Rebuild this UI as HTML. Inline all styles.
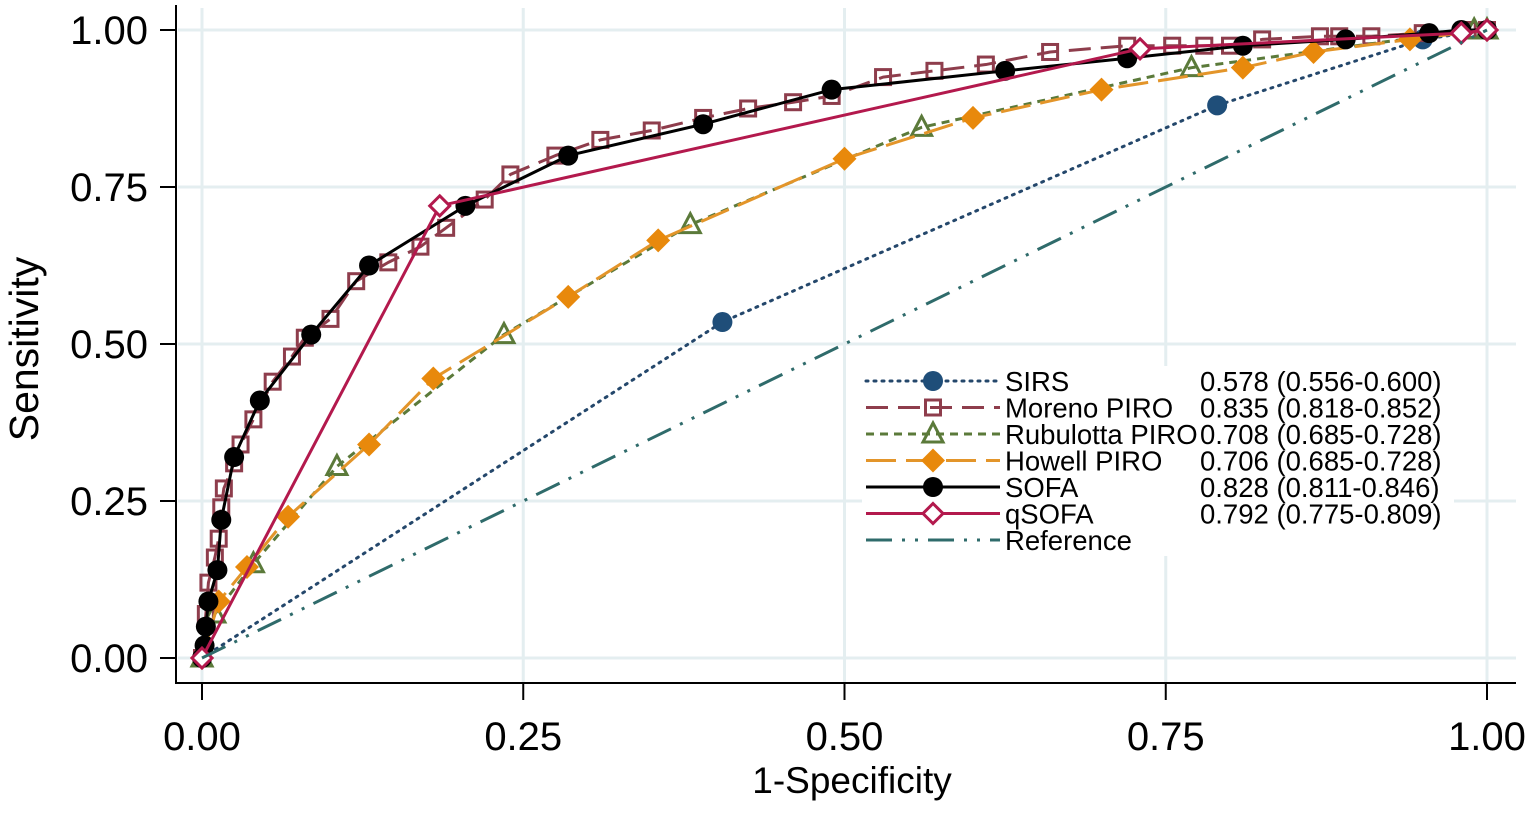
<!DOCTYPE html>
<html><head><meta charset="utf-8">
<style>
html,body{margin:0;padding:0;background:#fff;}
svg{display:block;font-family:"Liberation Sans",Arial,sans-serif;}
</style></head>
<body>
<svg id="chart" width="1529" height="814" viewBox="0 0 1529 814" xmlns="http://www.w3.org/2000/svg">
<g id="grid"></g>
<g id="axes"></g>
<g id="series"></g>
<g id="legend"></g>
</svg>
<script>
const xTicks=[0,0.25,0.5,0.75,1];
const yTicks=[0,0.25,0.5,0.75,1];
const tickLabels=["0.00","0.25","0.50","0.75","1.00"];
const sirsX=[0,0.405,0.79,0.95,1];
const sirsY=[0,0.535,0.88,0.985,1];
const morenoX=[0,0.003,0.005,0.01,0.013,0.015,0.017,0.025,0.03,0.04,0.055,0.07,0.08,0.1,0.12,0.145,0.17,0.19,0.22,0.24,0.275,0.31,0.35,0.39,0.425,0.46,0.49,0.53,0.57,0.61,0.66,0.72,0.755,0.78,0.8,0.825,0.87,0.885,0.91,0.95,0.985,1];
const morenoY=[0,0.07,0.12,0.16,0.19,0.24,0.27,0.31,0.34,0.38,0.44,0.48,0.51,0.54,0.6,0.63,0.655,0.685,0.73,0.77,0.8,0.825,0.84,0.86,0.875,0.885,0.895,0.925,0.935,0.945,0.965,0.975,0.975,0.975,0.975,0.985,0.99,0.99,0.99,0.995,1,1];
const rubX=[0,0.01,0.04,0.105,0.235,0.38,0.56,0.77,0.99,1];
const rubY=[0,0.07,0.15,0.305,0.515,0.69,0.845,0.94,1,1];
const howX=[0,0.013,0.035,0.067,0.13,0.18,0.285,0.355,0.5,0.6,0.7,0.81,0.865,0.94,1];
const howY=[0,0.09,0.145,0.225,0.34,0.445,0.575,0.665,0.795,0.86,0.905,0.94,0.965,0.985,1];
const sofaX=[0,0.002,0.003,0.005,0.012,0.015,0.025,0.045,0.085,0.13,0.205,0.285,0.39,0.49,0.625,0.72,0.81,0.89,0.955,0.98,1];
const sofaY=[0,0.02,0.05,0.09,0.14,0.22,0.32,0.41,0.515,0.625,0.72,0.8,0.85,0.905,0.935,0.955,0.975,0.985,0.995,1,1];
const qsofaX=[0,0.185,0.73,0.98,1];
const qsofaY=[0,0.72,0.97,0.995,1];
const refX=[0,1];
const refY=[0,1];
const legendNames=["SIRS","Moreno PIRO","Rubulotta PIRO","Howell PIRO","SOFA","qSOFA","Reference"];
const legendAUC=["0.578 (0.556-0.600)","0.835 (0.818-0.852)","0.708 (0.685-0.728)","0.706 (0.685-0.728)","0.828 (0.811-0.846)","0.792 (0.775-0.809)",""];

const NS="http://www.w3.org/2000/svg";
const X=v=>202+v*1285;
const Y=v=>658-v*628;
function el(tag,attrs,parent){const e=document.createElementNS(NS,tag);for(const k in attrs)e.setAttribute(k,attrs[k]);parent.appendChild(e);return e;}
const grid=document.getElementById('grid'),axes=document.getElementById('axes'),series=document.getElementById('series'),legend=document.getElementById('legend');

xTicks.forEach((t,i)=>{
  const g=el('line',{x1:X(t),x2:X(t),y1:8,y2:683,stroke:'#e4eef0','stroke-width':3},grid);
  
  
  const tk=el('line',{x1:X(t),x2:X(t),y1:683,y2:700,stroke:'#000','stroke-width':2},axes);
  
  
  const tx=el('text',{x:X(t),y:750,'font-size':40,'text-anchor':'middle'},axes);
  tx.textContent=tickLabels[i];
  
  
});
yTicks.forEach((t,i)=>{
  const g=el('line',{x1:178,x2:1516,y1:Y(t),y2:Y(t),stroke:'#e4eef0','stroke-width':3},grid);
  
  
  const tk=el('line',{x1:160,x2:177,y1:Y(t),y2:Y(t),stroke:'#000','stroke-width':2},axes);
  
  
  const tx=el('text',{x:148,y:Y(t)+14,'font-size':40,'text-anchor':'end'},axes);
  tx.textContent=tickLabels[i];
  
  
});
const xa=el('line',{x1:176,x2:1516,y1:683,y2:683,stroke:'#000','stroke-width':2},axes);


const ya=el('line',{x1:176,x2:176,y1:5,y2:684,stroke:'#000','stroke-width':2},axes);


const xt=el('text',{x:852,y:793,'font-size':37,'text-anchor':'middle'},axes);
xt.textContent='1-Specificity';


const yt=el('text',{x:0,y:0,'font-size':41,'text-anchor':'middle',transform:'translate(38,349) rotate(-90)'},axes);
yt.textContent='Sensitivity';



const specs=[
 {name:'sirs',xs:sirsX,ys:sirsY,color:'#24476b',dash:'2 6',w:3,cap:'round',marker:'circle',mfill:'#1f4e79'},
 {name:'moreno',xs:morenoX,ys:morenoY,color:'#8e3d4c',dash:'22 10',w:3,marker:'square'},
 {name:'rubulotta',xs:rubX,ys:rubY,color:'#5b7a3a',dash:'8 6',w:3,marker:'triangle'},
 {name:'howell',xs:howX,ys:howY,color:'#e3952a',dash:'30 10',w:3,marker:'diamond',mfill:'#e8890c'},
 {name:'sofa',xs:sofaX,ys:sofaY,color:'#000',dash:'',w:3,marker:'circle',mfill:'#000'},
 {name:'qsofa',xs:qsofaX,ys:qsofaY,color:'#b3194d',dash:'',w:3,marker:'odiamond'},
 {name:'reference',xs:refX,ys:refY,color:'#2f6b6b',dash:'26 10 3 10 3 10',w:3,marker:null}
];
function marker(type,cx,cy,color,fill,parent){
  let m;
  if(type==='circle') m=el('circle',{cx,cy,r:10,fill},parent);
  else if(type==='square') m=el('rect',{x:cx-7.5,y:cy-7.5,width:15,height:15,fill:'none',stroke:color,'stroke-width':3},parent);
  else if(type==='triangle') m=el('polygon',{points:`${cx},${cy-11} ${cx+10},${cy+8} ${cx-10},${cy+8}`,fill:'none',stroke:color,'stroke-width':3},parent);
  else if(type==='diamond') m=el('polygon',{points:`${cx},${cy-12} ${cx+12},${cy} ${cx},${cy+12} ${cx-12},${cy}`,fill},parent);
  else if(type==='odiamond') m=el('polygon',{points:`${cx},${cy-10} ${cx+10},${cy} ${cx},${cy+10} ${cx-10},${cy}`,fill:'#fff',stroke:color,'stroke-width':3},parent);
  return m;
}
specs.forEach(s=>{
  const g=el('g',{},series);
  
  
  const pts=s.xs.map((x,i)=>X(x)+','+Y(s.ys[i])).join(' ');
  const pl=el('polyline',{points:pts,fill:'none',stroke:s.color,'stroke-width':s.w,'stroke-dasharray':s.dash,'stroke-linecap':s.cap||'butt','stroke-linejoin':'round'},g);
  
  
  if(s.marker){
    s.xs.forEach((x,i)=>{
      if(s.name==='sirs'&&i===0)return;
      const m=marker(s.marker,X(x),Y(s.ys[i]),s.color,s.mfill,g);
      
      
    });
  }
});

// legend
const bg=el('rect',{x:862,y:366,width:592,height:190,fill:'#fff'},legend);


specs.forEach((s,i)=>{
  const cy=381+i*26.5;
  const g=el('g',{},legend);
  
  
  const ln=el('line',{x1:866,x2:1000,y1:cy,y2:cy,stroke:s.color,'stroke-width':3,'stroke-dasharray':s.dash,'stroke-linecap':s.cap||'butt'},g);
  
  
  if(s.marker){
    const m=marker(s.marker,933,cy,s.color,s.mfill,g);
    
    
  }
  const t=el('text',{x:1005,y:cy+10,'font-size':27.5},g);
  t.textContent=legendNames[i];
  
  
  if(legendAUC[i]){
    const a=el('text',{x:1200,y:cy+10,'font-size':27.5},g);
    a.textContent=legendAUC[i];
    
    
  }
});
</script>
</body></html>
